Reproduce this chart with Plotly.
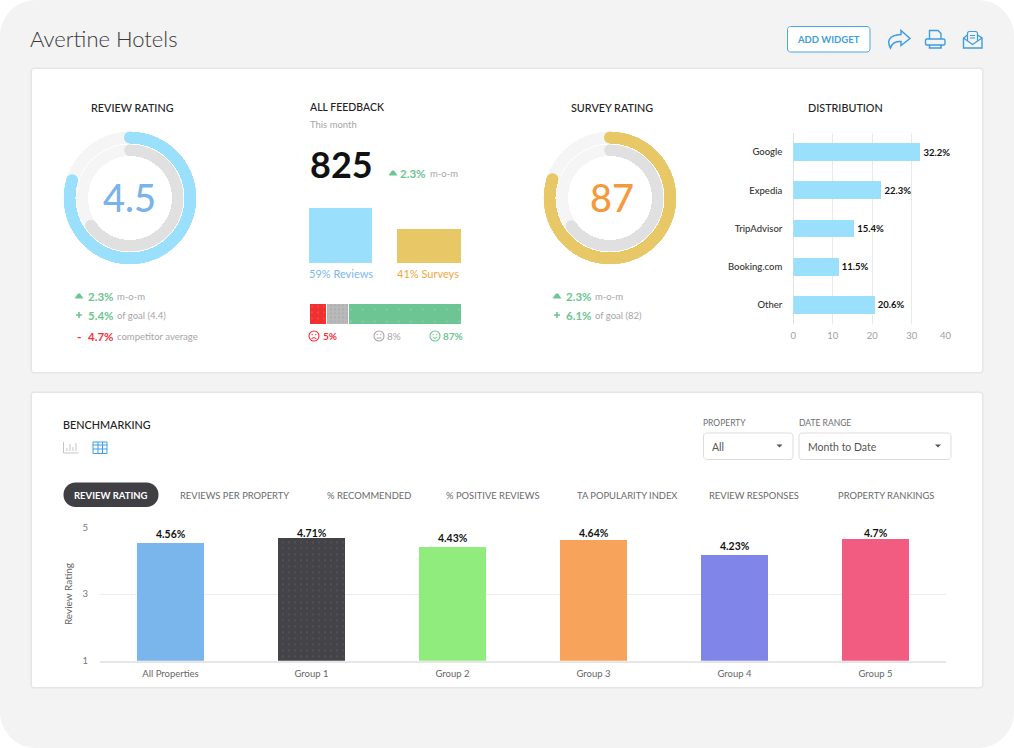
import plotly.graph_objects as go

W, H = 1014, 748
FONT = "Lato"

# ---------- data ----------
DIST_SOURCES = ["Google", "Expedia", "TripAdvisor", "Booking.com", "Other"]
DIST_SHARES = [32.2, 22.3, 15.4, 11.5, 20.6]
DIST_TICKS = [0, 10, 20, 30, 40]
DIST_TICK_LABELS = ["0", "10", "20", "30", ""]

BENCH_GROUPS = ["All Properties", "Group 1", "Group 2", "Group 3", "Group 4", "Group 5"]
BENCH_HEIGHTS = [4.52, 4.69, 4.41, 4.62, 4.18, 4.65]
BENCH_LABELS = ["4.56%", "4.71%", "4.43%", "4.64%", "4.23%", "4.7%"]
BENCH_COLORS = ["#7ab5ec", "#434348", "#90ed7d", "#f7a35c", "#8085e9", "#f15c80"]
BENCH_TICKS = [1, 3, 5]

FEEDBACK_KINDS = ["Reviews", "Surveys"]
FEEDBACK_HEIGHTS = [59, 37]
FEEDBACK_COLORS = ["#9adffb", "#e8c766"]

SENTIMENT_NAMES = ["Negative", "Neutral", "Positive"]
SENTIMENT_WIDTHS = [11.5, 14.5, 74]
SENTIMENT_COLORS = ["#f22f2f", "#b9b9b9", "#6cc593"]

# gauges: swept angle in degrees, clockwise from 12 o'clock
REVIEW_OUTER_SWEEP = 287
REVIEW_INNER_SWEEP = 235
SURVEY_OUTER_SWEEP = 288
SURVEY_INNER_SWEEP = 234

TABS = ["REVIEWS PER PROPERTY", "% RECOMMENDED", "% POSITIVE REVIEWS",
        "TA POPULARITY INDEX", "REVIEW RESPONSES", "PROPERTY RANKINGS"]

GREEN, RED, GREY, BLUE = "#6cc593", "#f22f3c", "#a6a6a6", "#3f9de0"
LIGHT_BLUE, GOLD, ORANGE = "#9adffb", "#e8c766", "#f59a3c"


# ---------- pixel helpers for page furniture ----------
def fx(x): return x / W
def fy(y): return 1 - y / H
def dom_x(a, b): return [fx(a), fx(b)]
def dom_y(top, bottom): return [fy(bottom), fy(top)]
def P(x, y): return f"{fx(x):.5f},{fy(y):.5f}"


def rrect(x0, y0, x1, y1, r):
    k = r * 0.45
    return (f"M{P(x0 + r, y0)} L{P(x1 - r, y0)} C{P(x1 - k, y0)} {P(x1, y0 + k)} {P(x1, y0 + r)} "
            f"L{P(x1, y1 - r)} C{P(x1, y1 - k)} {P(x1 - k, y1)} {P(x1 - r, y1)} "
            f"L{P(x0 + r, y1)} C{P(x0 + k, y1)} {P(x0, y1 - k)} {P(x0, y1 - r)} "
            f"L{P(x0, y0 + r)} C{P(x0, y0 + k)} {P(x0 + k, y0)} {P(x0 + r, y0)} Z")


shapes, annotations = [], []


def box(x0, y0, x1, y1, r, fill, line=None, lw=1, layer="below"):
    shapes.append(dict(type="path", path=rrect(x0, y0, x1, y1, r), xref="paper", yref="paper",
                       fillcolor=fill, line=dict(color=line or "rgba(0,0,0,0)", width=lw if line else 0),
                       layer=layer))


def pen(d, color, lw=1.3, fill="rgba(0,0,0,0)"):
    shapes.append(dict(type="path", path=d, xref="paper", yref="paper", fillcolor=fill,
                       line=dict(color=color, width=lw), layer="above"))


def solid(d, color):
    shapes.append(dict(type="path", path=d, xref="paper", yref="paper", fillcolor=color,
                       line=dict(width=0), layer="above"))


def circle(cx, cy, r, color, lw=1.1, fill="rgba(0,0,0,0)"):
    shapes.append(dict(type="circle", xref="paper", yref="paper", x0=fx(cx - r), x1=fx(cx + r),
                       y0=fy(cy + r), y1=fy(cy - r), fillcolor=fill,
                       line=dict(color=color, width=lw), layer="above"))


def T(x, y, s, size, color, anchor="left", weight=400, family=FONT):
    annotations.append(dict(x=fx(x), y=fy(y), xref="paper", yref="paper", text=s, showarrow=False,
                            xanchor=anchor, yanchor="middle", borderpad=0, borderwidth=0,
                            font=dict(family=family, size=size, color=color, weight=weight)))


def tri(x, y):
    solid(f"M{P(x - 4.5, y + 2.5)} L{P(x - 1, y - 2.5)} L{P(x + 1, y - 2.5)} L{P(x + 4.5, y + 2.5)} Z", GREEN)


def plus(x, y, color=GREEN):
    solid(f"M{P(x - 3, y - .8)} L{P(x - .8, y - .8)} L{P(x - .8, y - 3)} L{P(x + .8, y - 3)} L{P(x + .8, y - .8)} "
          f"L{P(x + 3, y - .8)} L{P(x + 3, y + .8)} L{P(x + .8, y + .8)} L{P(x + .8, y + 3)} L{P(x - .8, y + 3)} "
          f"L{P(x - .8, y + .8)} L{P(x - 3, y + .8)} Z", color)


def stat(xv, xn, y, value, note, color=GREEN):
    T(xv, y, value, 11.5, color, weight=700)
    T(xn, y, note, 9.5, GREY)


def smiley(cx, cy, color, mood):
    circle(cx, cy, 5, color)
    circle(cx - 1.8, cy - 1.3, .35, color, .8, color)
    circle(cx + 1.8, cy - 1.3, .35, color, .8, color)
    if mood == "sad":
        pen(f"M{P(cx - 2.4, cy + 2.6)} Q{P(cx, cy + .6)} {P(cx + 2.4, cy + 2.6)}", color, 1)
    elif mood == "flat":
        pen(f"M{P(cx - 2.4, cy + 2)} L{P(cx + 2.4, cy + 2)}", color, 1)
    else:
        pen(f"M{P(cx - 2.4, cy + 1.2)} Q{P(cx, cy + 3.6)} {P(cx + 2.4, cy + 1.2)}", color, 1)


# ---------- page ----------
box(0, 0, W, H, 36, "#f3f3f3")
for (a, b, c, d) in [(32, 69, 982, 372), (32, 393, 982, 687)]:
    box(a - 2, b - 2, c + 2, d + 2, 4, "#ececec")
    box(a - 1, b - 1, c + 1, d + 1, 3, "#e6e6e6")
    box(a, b, c, d, 2, "#ffffff")

T(30, 39, "Avertine Hotels", 22, "#3a3a3a", weight=300)
box(787.5, 26.5, 870, 52, 3, "#ffffff", "#4aa8e6", 1, "above")
T(828.7, 39.5, "ADD WIDGET", 9.5, BLUE, "center", 700)

# share icon
pen(f"M{P(901, 30.5)} L{P(910, 38.5)} L{P(901, 45.5)} L{P(901, 41.5)} C{P(896, 41)} {P(892, 43)} {P(890.5, 48)} "
    f"C{P(887, 42)} {P(888, 35)} {P(901, 34.5)} Z", BLUE, 1.5)
# printer icon
pen(f"M{P(929.5, 39)} L{P(929.5, 30.5)} L{P(938, 30.5)} L{P(941, 33.5)} L{P(941, 39)}", BLUE, 1.4)
pen(rrect(925.5, 39, 945, 45, 1.5), BLUE, 1.4)
pen(f"M{P(929.5, 45)} L{P(929.5, 48)} L{P(941, 48)} L{P(941, 45)}", BLUE, 1.6)
# mail icon
pen(f"M{P(963.5, 38)} L{P(967.5, 35)} M{P(977.5, 35)} L{P(982, 38)} L{P(982, 48)} L{P(963.5, 48)} L{P(963.5, 38)}", BLUE, 1.4)
pen(f"M{P(967.5, 41)} L{P(967.5, 33.5)} Q{P(967.5, 31.5)} {P(969.5, 31.5)} L{P(975.5, 31.5)} Q{P(977.5, 31.5)} {P(977.5, 33.5)} L{P(977.5, 41)}", BLUE, 1.2)
pen(f"M{P(963.5, 38)} L{P(972.5, 44.5)} L{P(982, 38)}", BLUE, 1.2)
pen(f"M{P(970, 35.5)} L{P(975, 35.5)} M{P(970, 38)} L{P(975, 38)}", BLUE, 1)

# ---------- card 1 text ----------
TITLE = 10.8
T(132, 107.5, "REVIEW RATING", TITLE, "#222222", "center", 500)
T(129.5, 197, "4.5", 38, "#7ab3ec", "center", 500)
tri(79, 296); stat(88, 117, 296, "2.3%", "m-o-m")
plus(79, 315); stat(88, 117, 315, "5.4%", "of goal (4.4)")
T(79, 336, "-", 12, RED, "center", 700); stat(88, 117, 336, "4.7%", "competitor average", RED)

T(310, 107.5, "ALL FEEDBACK", 10.5, "#222222", "left", 500)
T(310, 124, "This month", 9.5, GREY)
T(309.5, 164, "825", 36, "#111111", "left", 700)
tri(393, 173); stat(400, 430, 173, "2.3%", "m-o-m")
T(309, 273.5, "59% Reviews", 11, "#7ab8ee")
T(397, 273.5, "41% Surveys", 11, "#f0a83c")
smiley(314, 336, RED, "sad"); T(322.5, 336, "5%", 10, RED, weight=700)
smiley(379, 336, GREY, "flat"); T(387, 336, "8%", 10, GREY)
smiley(435, 336, GREEN, "happy"); T(443, 336, "87%", 10, GREEN, weight=700)

T(612, 107.5, "SURVEY RATING", TITLE, "#222222", "center", 500)
T(612, 197, "87", 38, ORANGE, "center", 500)
tri(557, 296); stat(566, 595, 296, "2.3%", "m-o-m")
plus(557, 315); stat(566, 595, 315, "6.1%", "of goal (82)")

T(845.5, 107.5, "DISTRIBUTION", TITLE, "#222222", "center", 500)

# ---------- card 2 text ----------
T(62.5, 424.5, "BENCHMARKING", TITLE, "#222222", weight=500)
pen(f"M{P(63.5, 442)} L{P(63.5, 453)} L{P(78.5, 453)}", "#c4c4c4", 1)
pen(f"M{P(67, 451)} L{P(67, 448)} M{P(70, 451)} L{P(70, 444)} M{P(73, 451)} L{P(73, 447)} M{P(76, 451)} L{P(76, 443)}",
    "#c4c4c4", 1)
pen(f"M{P(93, 442)} L{P(107, 442)} L{P(107, 453.5)} L{P(93, 453.5)} Z M{P(93, 445)} L{P(107, 445)} "
    f"M{P(93, 449)} L{P(107, 449)} M{P(98, 442)} L{P(98, 453.5)} M{P(102.5, 442)} L{P(102.5, 453.5)}", BLUE, 1)

box(63.5, 482.5, 158.5, 507, 12, "#3f3f44", layer="above")
T(111, 495, "REVIEW RATING", 9.5, "#ffffff", "center", 700)
for name, cx, cy in zip(TABS, [234, 368.5, 492.5, 627, 754, 885.5], [495, 495, 495, 495, 495, 495.5]):
    T(cx, cy, name, 9.4, "#6a6a6a", "center")

T(703, 423, "PROPERTY", 8.5, "#6f6f6f")
T(799, 423, "DATE RANGE", 8.5, "#6f6f6f")
box(703.5, 433, 793, 459.5, 3, "#ffffff", "#dcdcdc", 1, "above")
box(799, 433, 951, 459.5, 3, "#ffffff", "#dcdcdc", 1, "above")
T(712, 446.5, "All", 10.5, "#555555")
T(807.5, 446.5, "Month to Date", 10.5, "#555555")
for cx in (779.5, 938):
    solid(f"M{P(cx - 3, 444.5)} L{P(cx + 3, 444.5)} L{P(cx, 447.5)} Z", "#555555")

# ---------- figure ----------
fig = go.Figure()


def gauge(polar, outer_sweep, inner_sweep, outer_color):
    fig.add_trace(go.Barpolar(subplot=polar, r=[24.5], base=[42], theta=[180], width=[359.9],
                              marker=dict(color="#f5f5f5", line=dict(width=0)),
                              hoverinfo="skip", showlegend=False))
    fig.add_trace(go.Barpolar(subplot=polar, r=[0.8], base=[53.7], theta=[180], width=[359.9],
                              marker=dict(color="#ffffff", line=dict(width=0)),
                              hoverinfo="skip", showlegend=False))
    for sweep, base, thick, color in [(outer_sweep, 54.5, 12, outer_color), (inner_sweep, 42, 11.5, "#dfe0df")]:
        fig.add_trace(go.Barpolar(subplot=polar, r=[thick], base=[base], theta=[sweep / 2], width=[sweep],
                                  marker=dict(color=color, line=dict(width=0)),
                                  hoverinfo="skip", showlegend=False))
        fig.add_trace(go.Scatterpolar(subplot=polar, r=[base + thick / 2] * 2, theta=[0, sweep], mode="markers",
                                      marker=dict(color=color, size=thick, line=dict(width=0)),
                                      hoverinfo="skip", showlegend=False))


gauge("polar", REVIEW_OUTER_SWEEP, REVIEW_INNER_SWEEP, LIGHT_BLUE)
gauge("polar2", SURVEY_OUTER_SWEEP, SURVEY_INNER_SWEEP, GOLD)

# distribution bars
fig.add_trace(go.Bar(x=DIST_SHARES, y=DIST_SOURCES, orientation="h", xaxis="x", yaxis="y", width=0.47,
                     marker=dict(color=LIGHT_BLUE, line=dict(width=0)),
                     text=[f"{v}%" for v in DIST_SHARES], textposition="outside", cliponaxis=False,
                     textfont=dict(family=FONT, size=9.5, color="#111111", weight=700),
                     hoverinfo="skip", showlegend=False))
annotations.append(dict(x=DIST_TICKS[-1], y=fy(335), xref="x", yref="paper", text="40", showarrow=False,
                        xshift=-5.5, yanchor="middle", borderpad=0,
                        font=dict(family=FONT, size=9.5, color="#a0a0a0")))

# benchmarking bars
fig.add_trace(go.Bar(x=BENCH_GROUPS, y=BENCH_HEIGHTS, xaxis="x2", yaxis="y2", width=0.477,
                     marker=dict(color=BENCH_COLORS, line=dict(width=0),
                                 pattern=dict(shape=["", ".", "", "", "", ""], fgcolor="#77777d",
                                              bgcolor="#434348", size=6, solidity=0.02)),
                     hoverinfo="skip", showlegend=False))
for g, v, s in zip(BENCH_GROUPS, BENCH_HEIGHTS, BENCH_LABELS):
    annotations.append(dict(x=g, y=min(v, 4.56), xref="x2", yref="y2", text=s, showarrow=False,
                            yanchor="bottom", yshift=2, borderpad=0,
                            font=dict(family=FONT, size=10.5, color="#111111", weight=700)))

# feedback bars
fig.add_trace(go.Bar(x=FEEDBACK_KINDS, y=FEEDBACK_HEIGHTS, xaxis="x3", yaxis="y3", width=0.723,
                     marker=dict(color=FEEDBACK_COLORS, line=dict(width=0), cornerradius=2),
                     hoverinfo="skip", showlegend=False))

# sentiment stacked bar
for name, w, c, fg, sz, sol in zip(SENTIMENT_NAMES, SENTIMENT_WIDTHS, SENTIMENT_COLORS,
                                   ["#ff9a9a", "#777777", "#d8f2e4"], [6, 4, 12], [.04, .08, .01]):
    fig.add_trace(go.Bar(x=[w], y=["sentiment"], orientation="h", xaxis="x4", yaxis="y4", width=0.96, name=name,
                         marker=dict(color=c, line=dict(color="#ffffff", width=1),
                                     pattern=dict(shape=".", fgcolor=fg, bgcolor=c, size=sz, solidity=sol)),
                         hoverinfo="skip", showlegend=False))

tickfont = dict(family=FONT, size=9.5, color="#a0a0a0")
polar_common = dict(bgcolor="rgba(0,0,0,0)", barmode="overlay",
                    radialaxis=dict(visible=False, range=[0, 66.5]),
                    angularaxis=dict(visible=False, rotation=90, direction="clockwise", thetaunit="degrees"))
hidden = dict(visible=False, fixedrange=True)

fig.update_layout(
    width=W, height=H, autosize=False, margin=dict(l=0, r=0, t=0, b=0, autoexpand=False), showlegend=False,
    paper_bgcolor="#ffffff", plot_bgcolor="rgba(0,0,0,0)", barmode="stack",
    font=dict(family=FONT),
    polar=dict(domain=dict(x=dom_x(63.5, 196.5), y=dom_y(131.5, 264.5)), **polar_common),
    polar2=dict(domain=dict(x=dom_x(543.5, 676.5), y=dom_y(131.5, 264.5)), **polar_common),
    xaxis=dict(domain=dom_x(793.3, 951.3), anchor="y", range=[0, 40], tickvals=DIST_TICKS, ticktext=DIST_TICK_LABELS,
               showgrid=True, gridcolor="#e9e9e9", gridwidth=1, zeroline=True, zerolinecolor="#e0e0e0",
               zerolinewidth=1, showline=False, ticks="", tickfont=tickfont, ticklabelstandoff=4, fixedrange=True),
    yaxis=dict(domain=dom_y(133, 324), anchor="x", autorange="reversed", type="category", showgrid=False,
               ticks="", showline=False, tickfont=dict(family=FONT, size=9.5, color="#333333", weight=500),
               ticklabelstandoff=10, fixedrange=True),
    xaxis2=dict(domain=dom_x(100, 946), anchor="y2", type="category", showgrid=False, ticks="",
                showline=True, linecolor="#e6e6e6", linewidth=2,
                tickfont=dict(family=FONT, size=9.5, color="#666666"), ticklabelstandoff=3, fixedrange=True),
    yaxis2=dict(domain=dom_y(527.3, 660.7), anchor="x2", range=[1, 5], tickvals=BENCH_TICKS, showgrid=True,
                gridcolor="#ececec", gridwidth=1, zeroline=False, showline=False, ticks="",
                tickfont=dict(family=FONT, size=9.5, color="#777777"), ticklabelstandoff=11,
                title=dict(text="Review Rating", standoff=7, font=dict(family=FONT, size=10, color="#666666")),
                fixedrange=True),
    xaxis3=dict(domain=dom_x(296.25, 473.25), anchor="y3", type="category", **hidden),
    yaxis3=dict(domain=dom_y(208, 263), anchor="x3", range=[0, 59], **hidden),
    xaxis4=dict(domain=dom_x(309, 461), anchor="y4", range=[0, 100], **hidden),
    yaxis4=dict(domain=dom_y(303.5, 324.8), anchor="x4", type="category", **hidden),
    shapes=shapes, annotations=annotations,
)

fig.write_html("out.html", config=dict(displayModeBar=False),
               post_script="document.body.style.margin='0';document.documentElement.style.overflow='hidden';")
